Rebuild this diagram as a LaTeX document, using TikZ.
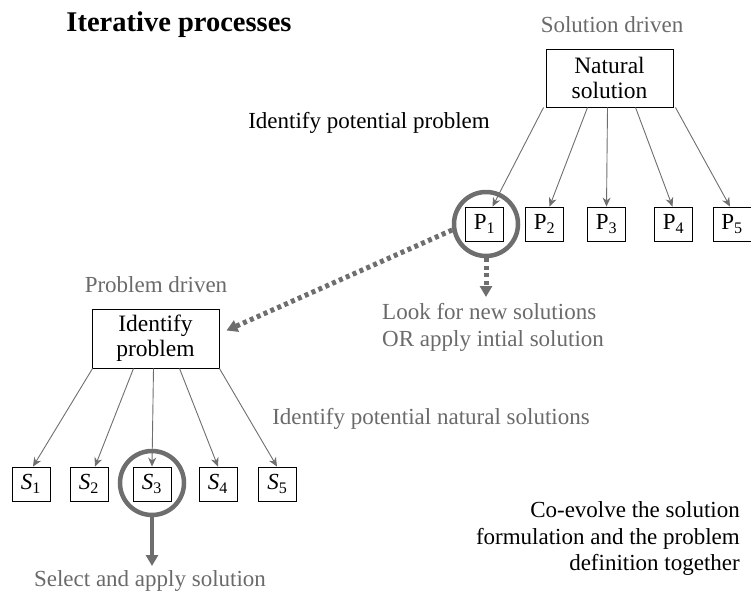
\documentclass[tikz,border=0pt]{standalone}
\usepackage{fontspec}
\setmainfont{Liberation Serif}
\usetikzlibrary{arrows.meta,calc}
\definecolor{linegray}{HTML}{6E6E6E}
\definecolor{textgray}{HTML}{6A6A6A}
\tikzset{
  box/.style={draw=black, line width=0.9pt, fill=white, align=center, inner sep=0pt},
  bigbox/.style={box, minimum width=127pt, minimum height=58pt, font=\fontsize{23.5}{25}\selectfont},
  smallbox/.style={box, minimum width=38pt, minimum height=34pt, font=\fontsize{23}{25}\selectfont},
  branch/.style={draw=linegray, line width=0.9pt, -{Stealth[length=9pt,width=8pt]}},
  ring/.style={draw=linegray, line width=4.5pt, circle, minimum size=64pt, inner sep=0pt},
  dotarrow/.style={draw=linegray, line width=5pt, dash pattern=on 4pt off 3.5pt, -{Triangle[length=11pt,width=12pt]}},
  thickarrow/.style={draw=linegray, line width=4.5pt, -{Triangle[length=11pt,width=12pt]}},
  graylabel/.style={text=textgray, font=\fontsize{23}{27}\selectfont, inner sep=0pt},
  blacklabel/.style={text=black, font=\fontsize{23}{27}\selectfont, inner sep=0pt},
}
\begin{document}
\begin{tikzpicture}[x=1pt, y=-1pt]
\useasboundingbox (0,0) rectangle (751,592);

% headings
\node[blacklabel, font=\fontsize{28.5}{30}\selectfont\bfseries] (title) at (179,25) {Iterative processes};
\node[graylabel] (soldriven) at (612,25) {Solution driven};
\node[graylabel] (probdriven) at (156,285) {Problem driven};

% solution-driven tree
\node[bigbox] (ns) at (609.5,78) {Natural\\solution};
\node[smallbox] (p1) at (484.5,224) {P\textsubscript{1}};
\node[smallbox] (p2) at (544.5,224) {P\textsubscript{2}};
\node[smallbox] (p3) at (606.5,224) {P\textsubscript{3}};
\node[smallbox] (p4) at (673.5,224) {P\textsubscript{4}};
\node[smallbox] (p5) at (732,224) {P\textsubscript{5}};
\node[blacklabel] (idpot) at (369,123) {Identify potential problem};

\draw[branch] ([xshift=-2pt]ns.south west) -- ([xshift=8pt]p1.north);
\draw[branch] ([xshift=-22pt]ns.south) -- ([xshift=5pt]p2.north);
\draw[branch] ([xshift=-2pt]ns.south) -- (p3.north);
\draw[branch] ([xshift=26pt]ns.south) -- ([xshift=-1pt]p4.north);
\draw[branch] ([xshift=2pt]ns.south east) -- ([xshift=-2pt]p5.north);

\node[ring] (ring1) at (486,224) {};

% problem-driven tree
\node[bigbox, minimum height=59pt] (ip) at (155.5,338.5) {Identify\\problem};
\node[smallbox] (s1) at (31,484) {\textit{S}\textsubscript{1}};
\node[smallbox] (s2) at (89,484) {\textit{S}\textsubscript{2}};
\node[smallbox] (s3) at (152,484) {\textit{S}\textsubscript{3}};
\node[smallbox] (s4) at (218,484) {\textit{S}\textsubscript{4}};
\node[smallbox] (s5) at (277.5,484) {\textit{S}\textsubscript{5}};

\draw[branch] ([xshift=1pt]ip.south west) -- ([xshift=2pt]s1.north);
\draw[branch] ([xshift=-22pt]ip.south) -- ([xshift=6pt]s2.north);
\draw[branch] ([xshift=-2pt]ip.south) -- (s3.north);
\draw[branch] ([xshift=24pt]ip.south) -- (s4.north);
\draw[branch] ([xshift=0pt]ip.south east) -- ([xshift=-0.5pt]s5.north);

\node[ring] (ring3) at (152,483) {};

% transitions
\coordinate (lookend) at (486,297);
\coordinate (selectend) at (152,566);
\draw[dotarrow] (ring1.190) -- ([xshift=7pt,yshift=8pt]ip.east);
\draw[dotarrow] (ring1.south) -- (lookend);
\draw[thickarrow] (ring3.south) -- (selectend);

\node[graylabel, align=left, anchor=west] (look) at (382,327.5) {Look for new solutions\\OR apply intial solution};
\node[graylabel] (idnat) at (431,419) {Identify potential natural solutions};
\node[graylabel] (select) at (150,581) {Select and apply solution};
\node[blacklabel, align=right, anchor=east, font=\fontsize{23}{26.5}\selectfont] (coevolve) at (740,538.5) {Co-evolve the solution\\formulation and the problem\\definition together};
\end{tikzpicture}
\end{document}
